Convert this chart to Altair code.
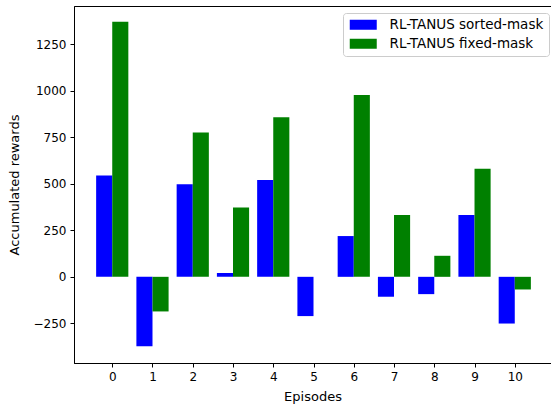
import altair as alt
import pandas as pd

episodes = [0, 1, 2, 3, 4, 5, 6, 7, 8, 9, 10]
sorted_mask = [545, -373, 498, 20, 520, -211, 219, -107, -93, 332, -251]
fixed_mask = [1370, -186, 775, 373, 857, 0, 977, 332, 113, 581, -68]
series_names = ["RL-TANUS sorted-mask", "RL-TANUS fixed-mask"]
series_colors = ["#0000ff", "#008000"]
y_ticks = [-250, 0, 250, 500, 750, 1000, 1250]

rows = []
for i, ep in enumerate(episodes):
    rows.append({"episode": ep, "series": series_names[0], "idx": 0, "value": sorted_mask[i]})
    rows.append({"episode": ep, "series": series_names[1], "idx": 1, "value": fixed_mask[i]})
df = pd.DataFrame(rows)

FONT = "DejaVu Sans"

chart = (
    alt.Chart(df)
    .transform_calculate(
        x0="datum.episode - 0.4 + 0.4 * datum.idx",
        x1="datum.episode + 0.4 * datum.idx",
    )
    .mark_bar(strokeWidth=0)
    .encode(
        x=alt.X(
            "x0:Q",
            scale=alt.Scale(domain=[-0.95, 10.9], nice=False, zero=False),
            axis=alt.Axis(values=episodes, title="Episodes", format="d"),
        ),
        x2="x1:Q",
        y=alt.Y(
            "value:Q",
            scale=alt.Scale(domain=[-463, 1455], nice=False),
            axis=alt.Axis(values=y_ticks, title="Accumulated rewards", format="d"),
        ),
        y2=alt.datum(0),
        color=alt.Color(
            "series:N",
            scale=alt.Scale(domain=series_names, range=series_colors),
            legend=alt.Legend(
                title=None,
                orient="none",
                legendX=269,
                legendY=7,
                symbolType="M-1,-1L4.4,-1L4.4,1L-1,1Z",
                symbolSize=100,
                symbolStrokeWidth=0,
                labelFontSize=13.5,
                labelFont=FONT,
                labelColor="#000000",
                labelOffset=28,
                rowPadding=4,
                padding=5,
                strokeColor="#cccccc",
                fillColor="#ffffff",
                cornerRadius=3,
            ),
        ),
    )
    .properties(
        width=477,
        height=357,
        padding={"left": 74, "top": 6, "right": 0, "bottom": 44},
        autosize=alt.AutoSizeParams(type="none"),
    )
    .configure_view(stroke="#000000", strokeWidth=1)
    .configure_axis(
        grid=False,
        labelFont=FONT,
        titleFont=FONT,
        labelFontSize=12,
        titleFontSize=13,
        titleFontWeight="normal",
        labelColor="#000000",
        titleColor="#000000",
        domainColor="#000000",
        tickColor="#000000",
        tickSize=4,
        labelPadding=4,
        labelFlush=False,
        labelOverlap=False,
    )
    .configure_axisX(titlePadding=8)
    .configure_axisY(titlePadding=12)
)

chart.save("out.html", embed_options={"renderer": "svg", "actions": False})
